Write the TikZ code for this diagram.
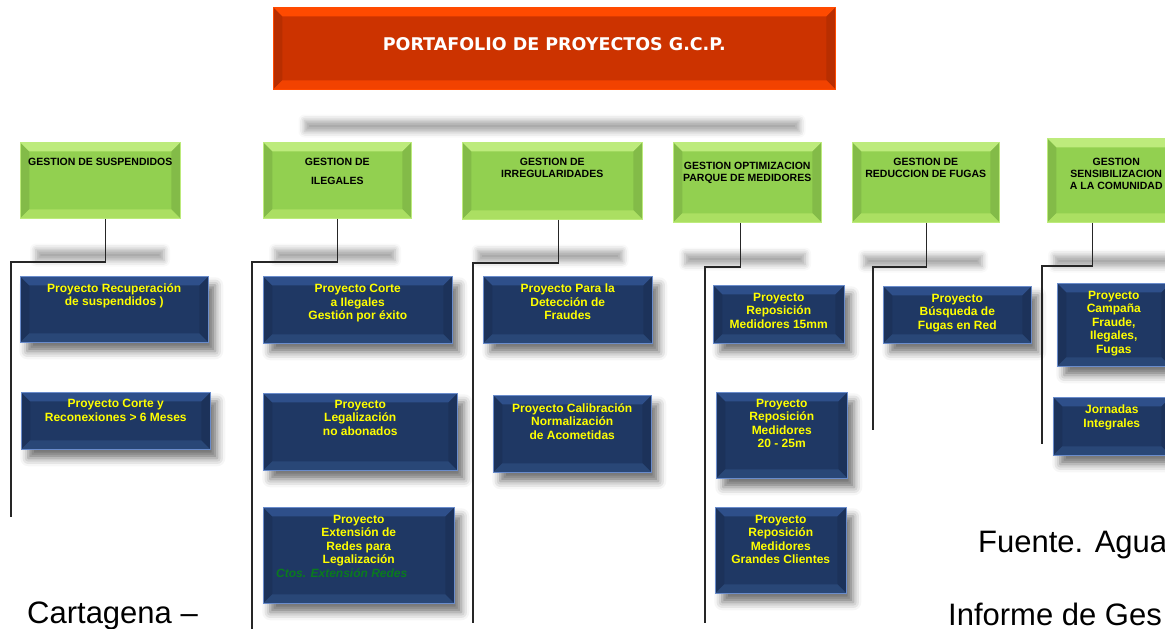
\documentclass[tikz,border=0pt]{standalone}
\usepackage{fontspec}
\setmainfont{Liberation Sans}
\newfontfamily\titulofont{DejaVu Sans}
\usetikzlibrary{positioning,shadows.blur}

\definecolor{rojoCab}{HTML}{CC3300}
\definecolor{rojoSup}{HTML}{FF4A00}
\definecolor{rojoInf}{HTML}{F24200}
\definecolor{verdeCab}{HTML}{92D050}
\definecolor{verdeSup}{HTML}{BDEB7C}
\definecolor{verdeInf}{HTML}{ABDF62}
\definecolor{azulCaja}{HTML}{1F3864}
\definecolor{azulSup}{HTML}{2E4F8A}
\definecolor{azulInf}{HTML}{294777}
\definecolor{azulBorde}{HTML}{6A8CCB}
\definecolor{amarillo}{HTML}{FFFF00}
\definecolor{verdeTxt}{HTML}{0A7A1E}

\begin{document}
\begin{tikzpicture}[x=1pt,y=1pt]
\tikzset{
    % caja con bisel: relleno, banda superior, banda inferior, borde
    bisel/.style n args={4}{fill=#1, draw=#4, line width=0.5pt, inner sep=0pt,
        anchor=north west,
        path picture={
            \fill[#1!90!black] (path picture bounding box.north west)
                -- ([shift={(9pt,-9pt)}]path picture bounding box.north west)
                -- ([shift={(9pt,9pt)}]path picture bounding box.south west)
                -- (path picture bounding box.south west) -- cycle;
            \fill[#1!90!black] (path picture bounding box.north east)
                -- ([shift={(-9pt,-9pt)}]path picture bounding box.north east)
                -- ([shift={(-9pt,9pt)}]path picture bounding box.south east)
                -- (path picture bounding box.south east) -- cycle;
            \fill[#2] (path picture bounding box.north west)
                -- (path picture bounding box.north east)
                -- ([shift={(-9pt,-9pt)}]path picture bounding box.north east)
                -- ([shift={(9pt,-9pt)}]path picture bounding box.north west) -- cycle;
            \fill[#3] (path picture bounding box.south west)
                -- (path picture bounding box.south east)
                -- ([shift={(-9pt,9pt)}]path picture bounding box.south east)
                -- ([shift={(9pt,9pt)}]path picture bounding box.south west) -- cycle;
        }},
    titulo/.style={bisel={rojoCab}{rojoSup}{rojoInf}{rojoSup}},
    gestion/.style={bisel={verdeCab}{verdeSup}{verdeInf}{verdeSup}},
    proyecto/.style={bisel={azulCaja}{azulSup}{azulInf}{azulBorde},
        blur shadow={shadow xshift=7pt, shadow yshift=-9pt,
                     shadow blur radius=8pt, shadow opacity=55}},
    reflejo/.style={inner sep=0pt, minimum height=11pt,
        blur shadow={shadow xshift=0pt, shadow yshift=0pt,
                     shadow blur radius=6pt, shadow opacity=35}},
    conector/.style={line width=1.4pt, black!85},
    txtgestion/.style={font=\bfseries\fontsize{10.5}{12}\selectfont, align=center, inner sep=0pt},
    txtproy/.style={font=\bfseries\fontsize{12}{13.5}\selectfont, text=amarillo,
        align=center, inner sep=0pt},
    pie/.style={font=\fontsize{31}{36}\selectfont, anchor=base west, inner sep=0pt}
}
\useasboundingbox (0,0) rectangle (1165,-629);

% Encabezado
\node[titulo, minimum width=562pt, minimum height=82pt] (tit) at (273,-7) {};
\node[font=\titulofont\bfseries\fontsize{17.5}{20}\selectfont, text=white, inner sep=0pt,
      below=30pt of tit.north] (ttit) {PORTAFOLIO DE PROYECTOS G.C.P.};
\node[reflejo, minimum width=495pt] (r0) at (552,-126) {};

% Areas de gestion
\node[gestion, minimum width=160pt, minimum height=76pt] (h1) at (20,-142) {};
\node[gestion, minimum width=148pt, minimum height=76pt] (h2) at (263,-142) {};
\node[gestion, minimum width=180pt, minimum height=77pt] (h3) at (462,-142) {};
\node[gestion, minimum width=148pt, minimum height=80pt] (h4) at (673,-142) {};
\node[gestion, minimum width=147pt, minimum height=80pt] (h5) at (852,-142) {};
\node[gestion, minimum width=138pt, minimum height=84pt] (h6) at (1047,-138) {};

\node[txtgestion, below=16pt of h1.north] (th1) {GESTION DE SUSPENDIDOS};
\node[txtgestion, below=16pt of h2.north] (th2) {GESTION DE\\[7pt]ILEGALES};
\node[txtgestion, below=16pt of h3.north] (th3) {GESTION DE\\IRREGULARIDADES};
\node[txtgestion, below=20pt of h4.north] (th4) {GESTION OPTIMIZACION\\PARQUE DE MEDIDORES};
\node[txtgestion, below=16pt of h5.north] (th5) {GESTION DE\\REDUCCION DE FUGAS};
\node[txtgestion, below=20pt of h6.north] (th6) {GESTION\\SENSIBILIZACION\\A LA COMUNIDAD};

% Reflejos bajo cada area
\node[reflejo, minimum width=128pt] (r1) at (100,-255) {};
\node[reflejo, minimum width=120pt] (r2) at (335,-255) {};
\node[reflejo, minimum width=145pt] (r3) at (550,-256) {};
\node[reflejo, minimum width=120pt] (r4) at (745,-259) {};
\node[reflejo, minimum width=118pt] (r5) at (923,-261) {};
\node[reflejo, minimum width=122pt] (r6) at (1115,-261) {};

% Lineas de cada area
\coordinate (q1) at (11,-262);   \coordinate (f1) at (11,-517);
\coordinate (q2) at (252,-262);  \coordinate (f2) at (252,-632);
\coordinate (q3) at (473,-263);  \coordinate (f3) at (473,-623);
\coordinate (q4) at (705,-267);  \coordinate (f4) at (705,-623);
\coordinate (q5) at (873,-267);  \coordinate (f5) at (873,-430);
\coordinate (q6) at (1042,-266); \coordinate (f6) at (1042,-444);
\draw[conector] ([xshift=5pt]h1.south) |- (q1) -- (f1);
\draw[conector] (h2.south) |- (q2) -- (f2);
\draw[conector] ([xshift=6pt]h3.south) |- (q3) -- (f3);
\draw[conector] ([xshift=-7pt]h4.south) |- (q4) -- (f4);
\draw[conector] ([xshift=1pt]h5.south) |- (q5) -- (f5);
\draw[conector] ([xshift=-24pt]h6.south) |- (q6) -- (f6);

% Proyectos
\node[proyecto, minimum width=188pt, minimum height=66pt] (c1a) at (20,-276) {};
\node[proyecto, minimum width=189pt, minimum height=57pt] (c1b) at (21,-392) {};
\node[proyecto, minimum width=189pt, minimum height=67pt] (c2a) at (263,-276) {};
\node[proyecto, minimum width=194pt, minimum height=77pt] (c2b) at (263,-393) {};
\node[proyecto, minimum width=191pt, minimum height=96pt] (c2c) at (263,-507) {};
\node[proyecto, minimum width=169pt, minimum height=67pt] (c3a) at (483,-276) {};
\node[proyecto, minimum width=158pt, minimum height=77pt] (c3b) at (493,-395) {};
\node[proyecto, minimum width=131pt, minimum height=58pt] (c4a) at (713,-285) {};
\node[proyecto, minimum width=131pt, minimum height=86pt] (c4b) at (716,-392) {};
\node[proyecto, minimum width=131pt, minimum height=86pt] (c4c) at (715,-507) {};
\node[proyecto, minimum width=148pt, minimum height=57pt] (c5a) at (883,-286) {};
\node[proyecto, minimum width=113pt, minimum height=83pt] (c6a) at (1057,-283) {};
\node[proyecto, minimum width=117pt, minimum height=58pt] (c6b) at (1053,-397) {};

\node[txtproy, below=7pt of c1a.north] (t1a) {Proyecto Recuperación\\de suspendidos )};
\node[txtproy, below=7pt of c1b.north] (t1b) {Proyecto Corte y\\Reconexiones > 6 Meses};
\node[txtproy, below=8pt of c2a.north] (t2a) {Proyecto Corte\\a Ilegales\\Gestión por éxito};
\node[txtproy, below=7pt of c2b.north] (t2b) {Proyecto\\Legalización\\no abonados};
\node[txtproy, below=8pt of c2c.north] (t2c) {Proyecto\\Extensión de\\Redes para\\Legalización\\
    {\color{verdeTxt}\itshape Ctos. Extensión Redes}\hspace*{34pt}};
\node[txtproy, below=8pt of c3a.north] (t3a) {Proyecto Para la\\Detección de\\Fraudes};
\node[txtproy, below=8pt of c3b.north] (t3b) {Proyecto Calibración\\Normalización\\de Acometidas};
\node[txtproy, below=8pt of c4a.north] (t4a) {Proyecto\\Reposición\\Medidores 15mm};
\node[txtproy, below=7pt of c4b.north] (t4b) {Proyecto\\Reposición\\Medidores\\20 - 25m};
\node[txtproy, below=8pt of c4c.north] (t4c) {Proyecto\\Reposición\\Medidores\\Grandes Clientes};
\node[txtproy, below=8pt of c5a.north] (t5a) {Proyecto\\Búsqueda de\\Fugas en Red};
\node[txtproy, below=8pt of c6a.north] (t6a) {Proyecto\\Campaña\\Fraude,\\Ilegales,\\Fugas};
\node[txtproy, below=8pt of c6b.north] (t6b) {Jornadas\\Integrales};

% Textos sueltos
\node[pie] (p1) at (27,-623) {Cartagena –};
\node[pie] (p2) at (978,-552) {Fuente. Agua};
\node[pie] (p3) at (948,-625) {Informe de Ges};
\end{tikzpicture}
\end{document}
